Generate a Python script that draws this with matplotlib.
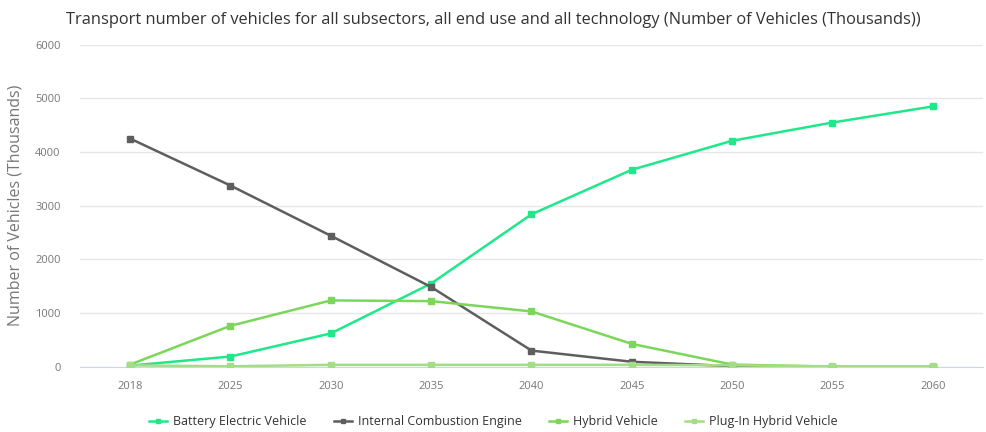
import matplotlib.pyplot as plt
from matplotlib.lines import Line2D
import numpy as np

years = ['2018', '2025', '2030', '2035', '2040', '2045', '2050', '2055', '2060']
battery = [20, 190, 620, 1550, 2840, 3670, 4210, 4550, 4850]
ice = [4250, 3375, 2440, 1485, 300, 92, 10, 0, 0]
hybrid = [40, 762, 1235, 1222, 1030, 425, 40, 0, 0]
plugin = [25, 8, 35, 35, 35, 35, 25, 8, 8]

names = ['Battery Electric Vehicle', 'Internal Combustion Engine', 'Hybrid Vehicle', 'Plug-In Hybrid Vehicle']
colors = ['#1ee88a', '#5e5e5e', '#7bd65a', '#a4dd86']

plt.rcParams['font.family'] = ['Open Sans', 'DejaVu Sans']

fig = plt.figure(figsize=(9.87, 4.32), dpi=100)
ax = fig.add_axes([80 / 987, 1 - 366.7 / 432, 903 / 987, 322 / 432])

x = np.arange(len(years))
series = [battery, ice, hybrid, plugin]
for k in [3, 2, 1, 0]:
    ax.plot(x, series[k], color=colors[k], lw=1.8, marker='s', ms=4, zorder=3 + k)

ax.set_xlim(-0.5, len(years) - 0.5)
ax.set_ylim(0, 6000)
ax.set_yticks(range(0, 6001, 1000))
ax.set_xticks(x)
ax.set_xticklabels(years)
ax.grid(axis='y', color='#e6e6e6', lw=1)
ax.set_axisbelow(True)
for s in ax.spines.values():
    s.set_visible(False)
ax.spines['bottom'].set_visible(True)
ax.spines['bottom'].set_color('#ccd6eb')
ax.tick_params(axis='both', length=0, labelsize=8, colors='#777777', pad=10)
ax.tick_params(axis='y', pad=14)
ax.set_ylabel('Number of Vehicles (Thousands)', fontsize=11.5, color='#777777', labelpad=8)

fig.text(0.5, 1 - 20 / 432, 'Transport number of vehicles for all subsectors, all end use and all technology (Number of Vehicles (Thousands))',
         ha='center', va='center', fontsize=11.8, color='#333333')

handles = [Line2D([], [], color=c, lw=1.8, marker='s', ms=3.5) for c in colors]
fig.legend(handles, names, loc='center', bbox_to_anchor=(0.5, 1 - 422 / 432), ncol=4, frameon=False,
           fontsize=9, handlelength=1.4, columnspacing=2.2, handletextpad=0.5, labelcolor='#333333')

fig.savefig('out.png', dpi=100)
